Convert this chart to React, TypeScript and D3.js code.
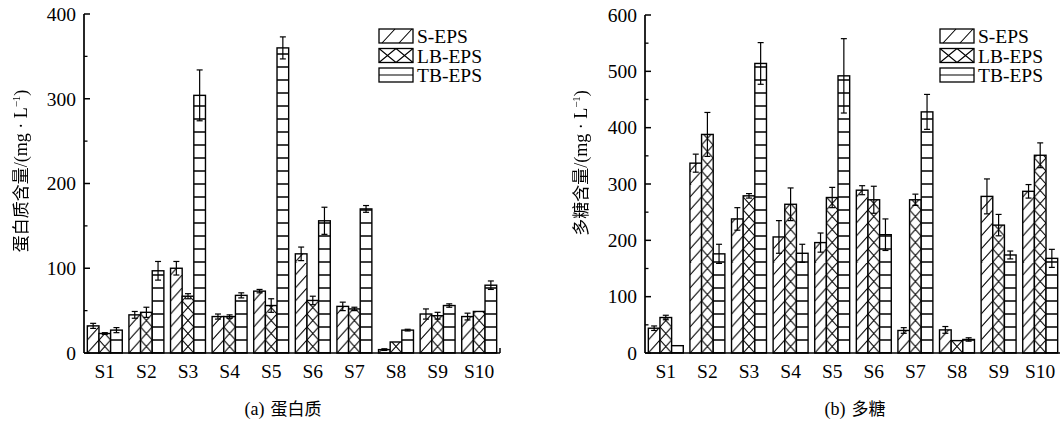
import React from 'react';
import * as d3 from 'd3';

const categories = ['S1', 'S2', 'S3', 'S4', 'S5', 'S6', 'S7', 'S8', 'S9', 'S10'];
const seriesNames = ['S-EPS', 'LB-EPS', 'TB-EPS'];

// (a) protein, mg/L
const proteinS = [32, 45, 100, 43, 73, 117, 55, 4, 46, 43];
const proteinSErr = [3, 4, 8, 3, 2, 8, 5, 1, 6, 4];
const proteinLB = [23, 48, 67, 43, 56, 62, 52, 13, 44, 49];
const proteinLBErr = [1, 6, 3, 2, 8, 5, 2, 0, 4, 0];
const proteinTB = [27, 97, 304, 68, 360, 156, 170, 27, 56, 80];
const proteinTBErr = [3, 11, 30, 3, 13, 16, 4, 1, 2, 5];

// (b) polysaccharide, mg/L
const polyS = [44, 337, 238, 206, 196, 289, 40, 41, 278, 287];
const polySErr = [4, 16, 20, 29, 17, 8, 5, 6, 31, 12];
const polyLB = [63, 388, 279, 264, 276, 272, 272, 22, 227, 351];
const polyLBErr = [4, 39, 4, 29, 18, 24, 10, 0, 19, 22];
const polyTB = [13, 176, 514, 177, 492, 210, 428, 24, 174, 168];
const polyTBErr = [0, 17, 37, 16, 66, 28, 31, 3, 7, 16];

const proteinTicks = [0, 100, 200, 300, 400];
const polyTicks = [0, 100, 200, 300, 400, 500, 600];

const SERIF = '"Liberation Serif", "Times New Roman", serif';
const CJK = '"Noto Sans CJK SC", sans-serif';
const TILE_H = 13;
const FS = 19.5;

function hatch(kind: number, w: number, h: number) {
  const sw = 1.1;
  if (kind === 0) {
    return <path d={`M0,${h} L${w},0 M${-w},${h} L0,0 M${w},${2 * h} L${2 * w},${h}`} stroke="#000" strokeWidth={sw} fill="none" />;
  }
  if (kind === 1) {
    return <path d={`M0,0 L${w},${h} M${w},0 L0,${h}`} stroke="#000" strokeWidth={sw} fill="none" />;
  }
  return <path d={`M0,0 L${w},0 M0,${h} L${w},${h}`} stroke="#000" strokeWidth={sw * 1.2} fill="none" />;
}

type PanelProps = {
  id: string;
  xr: [number, number];
  yMax: number;
  yTopPx: number;
  ticks: number[];
  values: number[][];
  errs: number[][];
  legendX: number;
  ylabel: string;
  ylabelX: number;
  ylabelY: number;
  capLetter: string;
  capText: string;
  captionX: number;
};

function Panel(p: PanelProps) {
  const y0 = 353;
  const x = d3.scaleBand<string>().domain(categories).range(p.xr).paddingInner(0.16).paddingOuter(0.08);
  const xs = d3.scaleBand<string>().domain(seriesNames).range([0, x.bandwidth()]);
  const y = d3.scaleLinear().domain([0, p.yMax]).range([y0, p.yTopPx]);
  const w = xs.bandwidth();
  const minor = p.ticks.slice(0, -1).map((t, i) => (t + p.ticks[i + 1]) / 2);
  const axisX = p.xr[0];

  const defs: JSX.Element[] = [];
  const bars: JSX.Element[] = [];
  const errEls: JSX.Element[] = [];

  seriesNames.forEach((s, si) => {
    categories.forEach((c, ci) => {
      const v = p.values[si][ci];
      const e = p.errs[si][ci];
      const bx = (x(c) as number) + (xs(s) as number);
      const by = y(v);
      const pid = `${p.id}-${si}-${ci}`;
      defs.push(
        <pattern key={pid} id={pid} patternUnits="userSpaceOnUse" x={bx} y={y0} width={w} height={TILE_H}>
          <rect width={w} height={TILE_H} fill="#fff" />
          {hatch(si, w, TILE_H)}
        </pattern>
      );
      bars.push(
        <rect key={pid} x={bx} y={by} width={w} height={y0 - by} fill={`url(#${pid})`} stroke="#000" strokeWidth={1.4} />
      );
      if (e > 0) {
        const cx = bx + w / 2;
        const t = y(v + e);
        const b = y(v - e);
        errEls.push(
          <g key={pid} stroke="#000" strokeWidth={1.2}>
            <line x1={cx} x2={cx} y1={t} y2={b} />
            <line x1={cx - 3} x2={cx + 3} y1={t} y2={t} />
            <line x1={cx - 3} x2={cx + 3} y1={b} y2={b} />
          </g>
        );
      }
    });
  });

  const lg: JSX.Element[] = [];
  seriesNames.forEach((s, si) => {
    const ly = 29 + si * 19.5;
    const lx = p.legendX;
    const sw = 34;
    const sh = 14;
    let inner: JSX.Element;
    if (si === 0) {
      inner = <path d={`M${lx + 3},${ly + sh} L${lx + 16},${ly} M${lx + 20},${ly + sh} L${lx + 33},${ly}`} />;
    } else if (si === 1) {
      inner = <path d={`M${lx},${ly} L${lx + 17},${ly + sh} M${lx + 17},${ly} L${lx},${ly + sh} M${lx + 17},${ly} L${lx + 34},${ly + sh} M${lx + 34},${ly} L${lx + 17},${ly + sh}`} />;
    } else {
      inner = <path d={`M${lx},${ly + sh / 2} L${lx + sw},${ly + sh / 2}`} />;
    }
    lg.push(
      <g key={s}>
        <rect x={lx} y={ly} width={sw} height={sh} fill="#fff" stroke="#000" strokeWidth={1.3} />
        <g stroke="#000" strokeWidth={1.1} fill="none">{inner}</g>
        <text x={lx + 38} y={ly + 14} fontSize={FS} fontFamily={SERIF}>{s}</text>
      </g>
    );
  });

  return (
    <g>
      <defs>{defs}</defs>
      {bars}
      {errEls}
      <line x1={axisX} x2={axisX} y1={y0} y2={y(p.yMax)} stroke="#000" strokeWidth={1.7} />
      {p.ticks.map(t => (
        <g key={'t' + t}>
          <line x1={axisX} x2={axisX + 6} y1={y(t)} y2={y(t)} stroke="#000" strokeWidth={1.5} />
          <text x={axisX - 8} y={y(t)} dy="0.35em" textAnchor="end" fontSize={FS} fontFamily={SERIF}>{t}</text>
        </g>
      ))}
      {minor.map(t => (
        <line key={'m' + t} x1={axisX} x2={axisX + 3.5} y1={y(t)} y2={y(t)} stroke="#000" strokeWidth={1.3} />
      ))}
      <line x1={axisX} x2={p.xr[1]} y1={y0} y2={y0} stroke="#000" strokeWidth={1.7} />
      <line x1={p.xr[1]} x2={p.xr[1]} y1={y0} y2={y0 - 5} stroke="#000" strokeWidth={1.5} />
      {categories.map(c => (
        <text key={c} x={(x(c) as number) + x.bandwidth() / 2} y={378} textAnchor="middle" fontSize={FS} fontFamily={SERIF}>{c}</text>
      ))}
      {lg}
      <g filter="url(#gray)">
        <text transform={`translate(${p.ylabelX},${p.ylabelY}) rotate(-90)`} dy="0.35em" textAnchor="middle" fontSize={18} fontFamily={SERIF} fill="#000">
          <tspan fontFamily={CJK} fontSize={17}>{p.ylabel}</tspan>/(mg · L<tspan fontSize={11} dy="-7">−1</tspan><tspan dy="7">)</tspan>
        </text>
      </g>
      <text x={p.captionX} y={415} textAnchor="middle" fontSize={18} fontFamily={SERIF} fill="#000">
        ({p.capLetter})<tspan fontFamily={CJK} fontSize={17} dx="6">{p.capText}</tspan>
      </text>
    </g>
  );
}

export default function App() {
  return (
    <svg width={1060} height={421} style={{ position: 'absolute', left: 0, top: 0, background: '#fff' }}>
      <defs>
        <filter id="gray" x="-10%" y="-10%" width="120%" height="120%">
          <feColorMatrix type="saturate" values="0" />
        </filter>
      </defs>
      <rect width={1060} height={421} fill="#fff" />
      <Panel
        id="pa"
        xr={[84, 500]}
        yMax={400}
        yTopPx={14}
        ticks={proteinTicks}
        values={[proteinS, proteinLB, proteinTB]}
        errs={[proteinSErr, proteinLBErr, proteinTBErr]}
        legendX={379}
        ylabel="蛋白质含量"
        ylabelX={21}
        ylabelY={171}
        capLetter="a"
        capText="蛋白质"
        captionX={283}
      />
      <Panel
        id="pb"
        xr={[645, 1061]}
        yMax={600}
        yTopPx={15}
        ticks={polyTicks}
        values={[polyS, polyLB, polyTB]}
        errs={[polySErr, polyLBErr, polyTBErr]}
        legendX={940}
        ylabel="多糖含量"
        ylabelX={581}
        ylabelY={163}
        capLetter="b"
        capText="多糖"
        captionX={855}
      />
    </svg>
  );
}
